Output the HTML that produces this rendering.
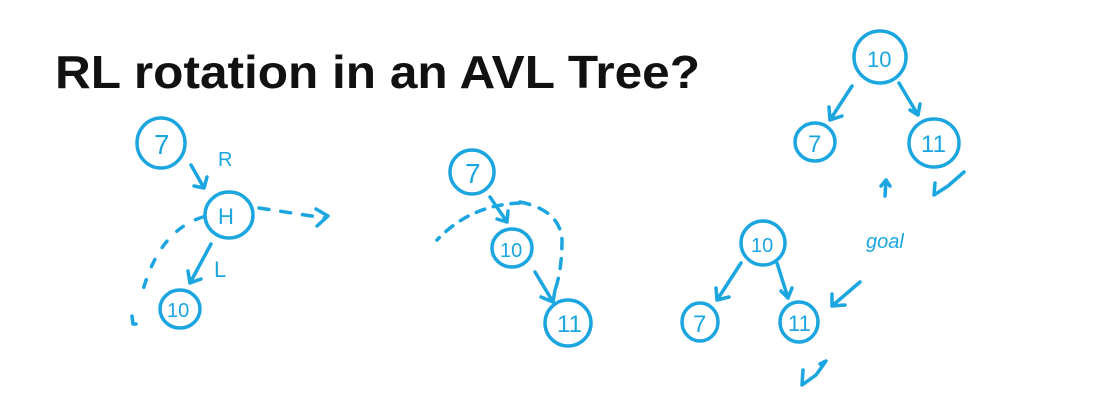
<!DOCTYPE html>
<html><head><meta charset="utf-8"><style>
html,body{margin:0;padding:0;background:#fff;width:1116px;height:414px;overflow:hidden}
</style></head><body>
<svg width="1116" height="414" viewBox="0 0 1116 414" xmlns="http://www.w3.org/2000/svg">
<text x="55" y="88" font-family="Liberation Sans, sans-serif" font-weight="bold" font-size="46" fill="#111" textLength="645" lengthAdjust="spacingAndGlyphs">RL rotation in an AVL Tree?</text>
<g fill="none" stroke="#1ba6e0" stroke-width="3.5" stroke-linecap="round" stroke-linejoin="round">
<ellipse cx="161" cy="143" rx="24" ry="25"/>
<ellipse cx="229" cy="215" rx="24" ry="23"/>
<ellipse cx="180" cy="309" rx="20" ry="19"/>
<path d="M191 165 L204 188 M194 186 L204 188 L207 177"/>
<path d="M211 244 L190 283 M188 271 L190 283 L201 279"/>
<path d="M259 208 L325 218" stroke-dasharray="10 12"/>
<path d="M316 209 L328 216 L317 226"/>
<path d="M203 217 Q160 230 143 290" stroke-dasharray="8 14"/>
<path d="M132 316 L133 324 L136 324"/>
<ellipse cx="472" cy="172" rx="22" ry="22"/>
<ellipse cx="512" cy="248" rx="20" ry="19"/>
<ellipse cx="568" cy="323" rx="23" ry="23"/>
<path d="M490 197 L507 222 M497 219 L507 222 L508 211"/>
<path d="M535 272 L553 302 M541 297 L553 302 L555 290"/>
<path d="M520 203 Q470 205 437 240" stroke-dasharray="9 9"/>
<path d="M520 202 Q560 210 562 240 Q562 270 555 290" stroke-dasharray="10 10"/>
<ellipse cx="880" cy="57" rx="26" ry="26"/>
<ellipse cx="815" cy="142" rx="20" ry="19"/>
<ellipse cx="934" cy="143" rx="25" ry="24"/>
<path d="M852 86 L830 120 M829 107 L830 120 L842 116"/>
<path d="M899 83 L918 115 M910 110 L918 115 L920 104"/>
<path d="M885 196 L886 180 M881 186 L886 180 L890 186"/>
<path d="M935 183 L934 195 L948 186 L964 172"/>
<ellipse cx="763" cy="243" rx="22" ry="22"/>
<ellipse cx="700" cy="322" rx="18" ry="19"/>
<ellipse cx="799" cy="322" rx="19" ry="20"/>
<path d="M741 263 L717 300 M716 288 L717 300 L729 297"/>
<path d="M777 263 L788 298 M781 291 L788 298 L792 288"/>
<path d="M860 282 L832 306 M832 294 L832 306 L845 305"/>
<path d="M803 370 L802 385 L816 375 L826 361 L820 364"/>
</g>
<g fill="#1ba6e0" font-family="Liberation Sans, sans-serif">
<text x="218" y="166" font-size="20">R</text>
<text x="214" y="277" font-size="22">L</text>
<text x="154" y="154" font-size="28">7</text>
<text x="218" y="224" font-size="22">H</text>
<text x="167" y="317" font-size="20">10</text>
<text x="465" y="183" font-size="28">7</text>
<text x="500" y="257" font-size="20">10</text>
<text x="557" y="332" font-size="24">11</text>
<text x="867" y="67" font-size="22">10</text>
<text x="808" y="152" font-size="24">7</text>
<text x="921" y="152" font-size="24">11</text>
<text x="751" y="252" font-size="20">10</text>
<text x="693" y="332" font-size="24">7</text>
<text x="788" y="331" font-size="22">11</text>
<text x="866" y="248" font-size="20" font-style="italic">goal</text>
</g>
</svg>
</body></html>
